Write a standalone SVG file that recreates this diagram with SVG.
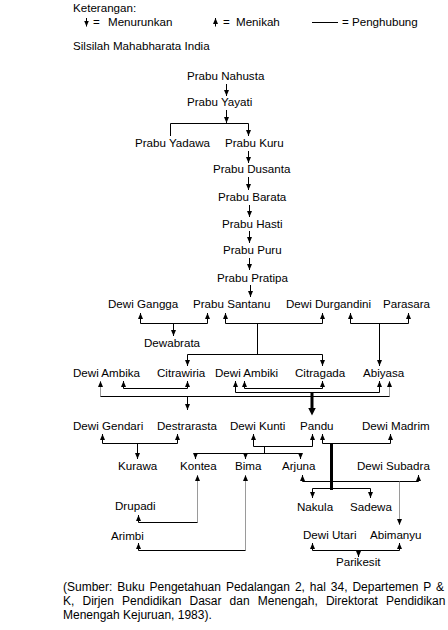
<svg xmlns="http://www.w3.org/2000/svg" width="448" height="630" viewBox="0 0 448 630">
<style>
.t{font-family:"Liberation Sans",Arial,sans-serif;font-size:11.6px;fill:#000}
.c{font-family:"Liberation Sans",Arial,sans-serif;font-size:12px;fill:#000}
.ln{fill:none;stroke:#000;stroke-width:1}
.gr{stroke:#9a9a9a}
.th{stroke-width:3}
.a{marker-end:url(#ah)}
.aa{marker-start:url(#ah);marker-end:url(#ah)}
.ab{marker-end:url(#ahb)}
</style>
<defs>
<marker id="ah" viewBox="0 0 6 6" refX="6" refY="3" markerWidth="6" markerHeight="6" markerUnits="userSpaceOnUse" orient="auto-start-reverse"><path d="M0,0.5 L6,3 L0,5.5 z" fill="#000"/></marker>
<marker id="ahb" viewBox="0 0 8 8" refX="0.5" refY="4" markerWidth="8" markerHeight="8" markerUnits="userSpaceOnUse" orient="auto"><path d="M0,0 L8,4 L0,8 z" fill="#000"/></marker>
</defs>
<rect width="448" height="630" fill="#fff"/>

<g id="legend">
<text class="t" x="73" y="12">Keterangan:</text>
<path class="ln a" d="M86.5,18 V26.5"/>
<text class="t" x="93" y="26">=</text>
<text class="t" x="108" y="26">Menurunkan</text>
<path class="ln a" d="M215.5,26.5 V18"/>
<text class="t" x="223" y="26">=</text>
<text class="t" x="236" y="26">Menikah</text>
<path class="ln" d="M312,22.5 H338"/>
<text class="t" x="342" y="26">= Penghubung</text>
</g>
<g id="title"><text class="t" x="73" y="50">Silsilah Mahabharata India</text></g>

<g id="connectors">
<path class="ln a" d="M226.5,84 V96"/>
<path class="ln a" d="M226.5,110 V123"/>
<path class="ln a" d="M170.5,136 V123.5 H248.5 V136"/>
<path class="ln a" d="M248.5,151 V163"/>
<path class="ln a" d="M248.5,177 V190"/>
<path class="ln a" d="M249.5,205 V217"/>
<path class="ln a" d="M249.5,231 V243"/>
<path class="ln a" d="M249.5,258 V270"/>
<path class="ln a" d="M250.5,285 V297"/>
<path class="ln aa" d="M140.5,313 V323.5 H207.5 V313"/>
<path class="ln a" d="M173.5,323.5 V336"/>
<path class="ln aa" d="M225.5,313 V323.5 H322.5 V313"/>
<path class="ln" d="M257.5,323.5 V354.5"/>
<path class="ln aa" d="M187.5,366 V354.5 H322.5 V366"/>
<path class="ln aa" d="M350.5,313 V323.5 H408.5 V313"/>
<path class="ln a" d="M379.5,323.5 V366"/>
<path class="ln aa" d="M123.5,381 V388.5 H187.5 V381"/>
<path class="ln aa" d="M244.5,381 V388.5 H322.5 V381"/>
<path class="ln aa" d="M235.5,381 V392.5 H379.5 V381"/>
<path class="ln gr a" d="M100.5,396.5 V381"/>
<path class="ln gr a" d="M389.5,396.5 V381"/>
<path class="ln" d="M100.5,396.5 H389.5"/>
<path class="ln a" d="M187.5,396.5 V410"/>
<path class="ln th ab" d="M312,392 V408"/>
<path class="ln aa" d="M102.5,434 V443.5 H177.5 V434"/>
<path class="ln a" d="M137.5,443.5 V459"/>
<path class="ln aa" d="M253.5,434 V446.5 H312.5 V434"/>
<path class="ln" d="M264.5,446.5 V453.5"/>
<path class="ln aa" d="M195.5,459 V453.5 H300.5 V459"/>
<path class="ln a" d="M245.5,453.5 V459"/>
<path class="ln aa" d="M322.5,434 V443.5 H390.5 V434"/>
<path class="ln th" d="M331.5,443 V490"/>
<path class="ln aa" d="M302.5,475 V481.5 H418.5 V475"/>
<path class="ln gr a" d="M399.5,481.5 V525"/>
<path class="ln aa" d="M312.5,498 V488.5 H370.5 V498"/>
<path class="ln gr a" d="M197.5,522.5 V475"/>
<path class="ln a" d="M197.5,522.5 H138.5 V515"/>
<path class="ln gr a" d="M245.5,550.5 V475"/>
<path class="ln a" d="M245.5,550.5 H138.5 V543"/>
<path class="ln aa" d="M312.5,543 V550.5 H399.5 V543"/>
<path class="ln a" d="M358.5,550.5 V557"/>
</g>

<g id="n-nahusta"><text class="t" x="187" y="80">Prabu Nahusta</text></g>
<g id="n-yayati"><text class="t" x="187" y="106">Prabu Yayati</text></g>
<g id="n-yadawa"><text class="t" x="135" y="147">Prabu Yadawa</text></g>
<g id="n-kuru"><text class="t" x="225" y="147">Prabu Kuru</text></g>
<g id="n-dusanta"><text class="t" x="213" y="173">Prabu Dusanta</text></g>
<g id="n-barata"><text class="t" x="218" y="201">Prabu Barata</text></g>
<g id="n-hasti"><text class="t" x="222" y="228">Prabu Hasti</text></g>
<g id="n-puru"><text class="t" x="223" y="254">Prabu Puru</text></g>
<g id="n-pratipa"><text class="t" x="217" y="282">Prabu Pratipa</text></g>
<g id="n-gangga"><text class="t" x="108" y="308">Dewi Gangga</text></g>
<g id="n-santanu"><text class="t" x="193" y="308">Prabu Santanu</text></g>
<g id="n-durgandini"><text class="t" x="286" y="308">Dewi Durgandini</text></g>
<g id="n-parasara"><text class="t" x="383" y="308">Parasara</text></g>
<g id="n-dewabrata"><text class="t" x="144" y="347">Dewabrata</text></g>
<g id="n-ambika"><text class="t" x="73" y="377">Dewi Ambika</text></g>
<g id="n-citrawiria"><text class="t" x="157" y="377">Citrawiria</text></g>
<g id="n-ambiki"><text class="t" x="215" y="377">Dewi Ambiki</text></g>
<g id="n-citragada"><text class="t" x="295" y="377">Citragada</text></g>
<g id="n-abiyasa"><text class="t" x="363" y="377">Abiyasa</text></g>
<g id="n-gendari"><text class="t" x="73" y="430">Dewi Gendari</text></g>
<g id="n-destrarasta"><text class="t" x="157" y="430">Destrarasta</text></g>
<g id="n-kunti"><text class="t" x="230" y="430">Dewi Kunti</text></g>
<g id="n-pandu"><text class="t" x="300" y="430">Pandu</text></g>
<g id="n-madrim"><text class="t" x="362" y="430">Dewi Madrim</text></g>
<g id="n-kurawa"><text class="t" x="118" y="470">Kurawa</text></g>
<g id="n-kontea"><text class="t" x="180" y="470">Kontea</text></g>
<g id="n-bima"><text class="t" x="235" y="470">Bima</text></g>
<g id="n-arjuna"><text class="t" x="282" y="470">Arjuna</text></g>
<g id="n-subadra"><text class="t" x="357" y="470">Dewi Subadra</text></g>
<g id="n-drupadi"><text class="t" x="115" y="510">Drupadi</text></g>
<g id="n-nakula"><text class="t" x="297" y="511">Nakula</text></g>
<g id="n-sadewa"><text class="t" x="350" y="511">Sadewa</text></g>
<g id="n-arimbi"><text class="t" x="111" y="540">Arimbi</text></g>
<g id="n-utari"><text class="t" x="303" y="539">Dewi Utari</text></g>
<g id="n-abimanyu"><text class="t" x="370" y="539">Abimanyu</text></g>
<g id="n-parikesit"><text class="t" x="336" y="566">Parikesit</text></g>

<g id="source">
<text class="c" x="63" y="591" word-spacing="1.6">(Sumber: Buku Pengetahuan Pedalangan 2, hal 34, Departemen P &amp;</text>
<text class="c" x="63" y="605" word-spacing="4.8">K, Dirjen Pendidikan Dasar dan Menengah, Direktorat Pendidikan</text>
<text class="c" x="63" y="619">Menengah Kejuruan, 1983).</text>
</g>
</svg>
